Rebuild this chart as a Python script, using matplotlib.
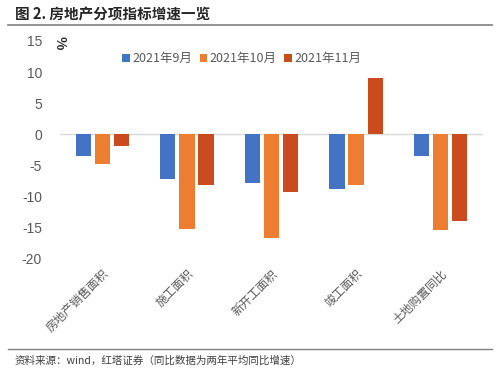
import matplotlib
matplotlib.use("Agg")
import matplotlib.pyplot as plt
import numpy as np

plt.rcParams['font.family'] = ['Noto Sans CJK SC', 'DejaVu Sans']

categories = ["房地产销售面积", "施工面积", "新开工面积", "竣工面积", "土地购置同比"]
series_names = ["2021年9月", "2021年10月", "2021年11月"]
sep = [-3.4, -7.1, -7.8, -8.7, -3.4]
octo = [-4.8, -15.2, -16.6, -8.2, -15.3]
nov = [-1.8, -8.1, -9.2, 9.0, -13.9]
yticks = [15, 10, 5, 0, -5, -10, -15, -20]
colors = ["#4472C4", "#ED7D31", "#C94B1E"]

fig = plt.figure(figsize=(5.0, 3.74), dpi=100)
ax = fig.add_axes([0.12, 0.3075, 0.846, 0.583])

x = np.arange(len(categories))
w = 0.18
off = 0.225
for i, (vals, c, n) in enumerate(zip([sep, octo, nov], colors, series_names)):
    ax.bar(x + (i - 1) * off, vals, width=w, color=c, label=n, zorder=3)

ax.set_xlim(-0.5, len(categories) - 0.5)
ax.set_ylim(-20, 15)
ax.set_yticks(yticks)
ax.set_yticklabels([str(t) for t in yticks], fontsize=10, color="#595959",
                   family=['Liberation Sans', 'DejaVu Sans'])
ax.axhline(0, color="#D9D9D9", lw=1, zorder=2)
for s in ax.spines.values():
    s.set_visible(False)
ax.tick_params(axis='both', length=0)
ax.tick_params(axis='y', pad=13)
ax.set_xticks(x)
ax.set_xticklabels(categories, rotation=45, ha='right', va='top',
                   rotation_mode='anchor', fontsize=8.5, color="#595959")
ax.tick_params(axis='x', pad=6)

leg = ax.legend(loc='upper center', bbox_to_anchor=(0.43, 1.0), ncol=3, frameon=False,
                fontsize=9, handlelength=0.6, handleheight=0.6, handletextpad=0.2,
                columnspacing=0.6, labelcolor="#595959")

fig.text(0.12, 0.885, "%", fontsize=10, fontweight='bold', rotation=-90,
         ha='center', va='center', color="#262626")

fig.text(0.03, 0.962, "图 2. 房地产分项指标增速一览", fontsize=10.5, fontweight='bold',
         ha='left', va='center', color="#262626")
fig.add_artist(plt.Line2D([0.016, 0.984], [0.933, 0.933], color="#7F7F7F", lw=1.2,
                          transform=fig.transFigure))
fig.add_artist(plt.Line2D([0.016, 0.984], [0.067, 0.067], color="#7F7F7F", lw=1.0,
                          transform=fig.transFigure))
fig.text(0.03, 0.035, "资料来源：wind，红塔证券（同比数据为两年平均同比增速）", fontsize=7.6,
         ha='left', va='center', color="#404040")

fig.savefig("out.png", dpi=100)
